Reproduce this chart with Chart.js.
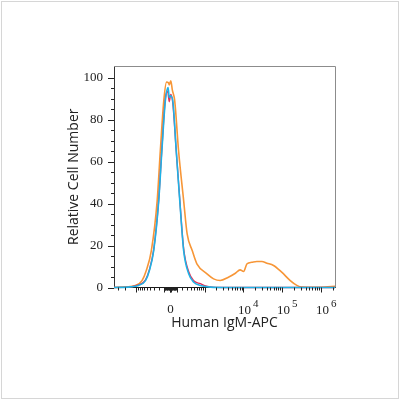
<!DOCTYPE html>
<html>
<head>
<meta charset="utf-8">
<script src="https://cdn.jsdelivr.net/npm/chart.js@4/dist/chart.umd.min.js"></script>
<style>
  body { margin: 0; background: #fff; }
  canvas { display: block; }
</style>
</head>
<body>
<canvas id="histChart" width="400" height="400"></canvas>
<script>
// x values are in display units of the biexponential axis (0 = zero, ~1 unit per decade)
const orangeX = [-1.45, -1.15, -0.90, -0.73, -0.62, -0.49, -0.34, -0.26, -0.17, -0.10, -0.05, -0.03, 0.01, 0.05, 0.11, 0.21, 0.34, 0.43, 0.56, 0.68, 0.94, 1.11, 1.28, 1.49, 1.67, 1.79, 1.88, 1.97, 2.09, 2.22, 2.35, 2.48, 2.65, 2.86, 3.08, 3.25, 3.38, 3.72, 3.97, 4.23];
const orangeY = [0, 0.3, 1.0, 3.3, 8.1, 17.6, 41.4, 65, 89, 97.8, 97.5, 96.5, 98.5, 94, 89, 65, 41.4, 25.5, 17.6, 11.3, 6.5, 4.1, 3.3, 4.9, 6.8, 8.4, 7.6, 11.3, 12, 12.4, 12.4, 11.6, 10.5, 7.3, 3.3, 1.0, 0.2, 0.1, 0.2, 0.6];

const blueX = [-1.45, -1.03, -0.82, -0.64, -0.54, -0.43, -0.30, -0.22, -0.13, -0.06, -0.03, 0, 0.06, 0.15, 0.24, 0.34, 0.47, 0.60, 0.77, 1.03, 1.5, 4.23];
const blueY = [0, 0.3, 1.0, 3.3, 8.1, 17.6, 41.4, 65, 89, 95.2, 90.5, 91.3, 89, 65, 41.4, 17.6, 6.5, 2.5, 1.0, 0.2, 0, 0];

const redX = [-1.45, -1.03, -0.82, -0.64, -0.54, -0.43, -0.30, -0.22, -0.13, -0.07, -0.03, 0.01, 0.06, 0.15, 0.24, 0.34, 0.47, 0.60, 0.77, 0.90, 1.08, 1.5, 4.23];
const redY = [0, 0.3, 1.2, 3.6, 8.5, 18, 42, 66, 90, 93.5, 88.5, 92, 88, 65, 42, 18.5, 7.5, 3.2, 1.8, 0.8, 0.2, 0, 0];

// axis ticks (fluorescence values) and their labels ("base^exponent")
const xLabelValues = [0, 1e4, 1e5, 1e6];
const xLabelTexts = ['0', '10^4', '10^5', '10^6'];
const yLabelValues = [0, 20, 40, 60, 80, 100];

// biexponential-like display transform
function toDisplay(v) {
    return Math.asinh(v / 268) / Math.LN10;
}

const xMin = -1.45;
const xMax = 4.23;

// build all x ticks: 0, +-k*10^n
const xTicks = [];
xTicks.push({ value: 0, long: true, name: '0' });
for (let n = 1; n <= 6; n++) {
    for (let k = 1; k <= 9; k++) {
        [1, -1].forEach(function (sign) {
            const v = sign * k * Math.pow(10, n);
            const d = toDisplay(v);
            if (d < xMin || d > xMax) return;
            const idx = xLabelValues.indexOf(v);
            xTicks.push({ value: d, long: k === 1, name: idx >= 0 ? xLabelTexts[idx] : '' });
        });
    }
}
xTicks.sort(function (a, b) { return a.value - b.value; });

const yTicks = [];
for (let v = 0; v <= 100; v += 5) {
    yTicks.push({ value: v, long: yLabelValues.indexOf(v) >= 0 });
}

function toPoints(xs, ys) {
    return xs.map(function (x, i) { return { x: x, y: ys[i] }; });
}

// tick marks, x labels with exponents, and frame
const frameTicks = {
    id: 'frameTicks',
    afterDraw(chart) {
        const ctx = chart.ctx;
        const area = chart.chartArea;
        const xs = chart.scales.x;
        const ys = chart.scales.y;
        ctx.save();
        ctx.lineWidth = 1;
        ctx.strokeStyle = '#222';
        ctx.fillStyle = '#222';
        xs.ticks.forEach(function (t) {
            const px = Math.round(xs.getPixelForValue(t.value)) + 0.5;
            ctx.beginPath();
            ctx.moveTo(px, area.bottom);
            ctx.lineTo(px, area.bottom + (t.long ? 5 : 3));
            ctx.stroke();
            if (!t.name) return;
            const parts = t.name.split('^');
            const base = area.bottom + 26;
            ctx.font = '13px "Liberation Serif"';
            ctx.textBaseline = 'alphabetic';
            if (parts.length === 1) {
                ctx.textAlign = 'center';
                ctx.fillText(parts[0], px, base - 1);
            } else {
                const w = ctx.measureText(parts[0]).width;
                ctx.textAlign = 'left';
                ctx.fillText(parts[0], px - w / 2 + 1, base);
                ctx.font = '11px "Liberation Serif"';
                ctx.fillText(parts[1], px + w / 2 + 3, base - 7);
            }
        });
        ys.ticks.forEach(function (t) {
            const py = Math.round(ys.getPixelForValue(t.value)) + 0.5;
            ctx.beginPath();
            ctx.moveTo(area.left, py);
            ctx.lineTo(area.left - (t.long ? 6 : 3), py);
            ctx.stroke();
        });
        // top and right of the plot box
        ctx.strokeStyle = '#8c8c8c';
        ctx.beginPath();
        ctx.moveTo(area.left, area.top + 0.5);
        ctx.lineTo(area.right + 0.5, area.top + 0.5);
        ctx.lineTo(area.right + 0.5, area.bottom);
        ctx.stroke();
        // outer light frame
        ctx.strokeStyle = '#d6d6d6';
        ctx.strokeRect(1.5, 1.5, chart.width - 3, chart.height - 3);
        ctx.restore();
    }
};

const tickFont = { family: 'Liberation Serif', size: 13 };
const titleFont = { family: 'Open Sans', size: 14 };

const config = {
    type: 'line',
    data: {
        datasets: [
            {
                label: 'Blue',
                data: toPoints(blueX, blueY),
                borderColor: 'rgb(30,178,230)',
                borderWidth: 1.6
            },
            {
                label: 'Red',
                data: toPoints(redX, redY),
                borderColor: 'rgb(228,50,90)',
                borderWidth: 1.4
            },
            {
                label: 'Orange',
                data: toPoints(orangeX, orangeY),
                borderColor: 'rgb(247,150,55)',
                borderWidth: 1.6
            }
        ]
    },
    options: {
        responsive: false,
        animation: false,
        layout: { padding: { top: 66, right: 65, bottom: 0, left: 0 } },
        elements: {
            point: { radius: 0 },
            line: { cubicInterpolationMode: 'monotone', fill: false }
        },
        datasets: { line: { clip: 4 } },
        plugins: {
            legend: { display: false },
            tooltip: { enabled: false }
        },
        scales: {
            x: {
                type: 'linear',
                min: xMin,
                max: xMax,
                afterBuildTicks: function (s) { s.ticks = xTicks.map(function (t) { return Object.assign({}, t); }); },
                afterFit: function (s) { s.height = 112.5; },
                grid: { display: false, drawTicks: false },
                border: { display: true, color: '#1a1a1a', width: 1 },
                ticks: {
                    autoSkip: false,
                    maxRotation: 0,
                    padding: 14,
                    font: tickFont,
                    // labels are drawn by the frameTicks plugin (exponents)
                    callback: function () { return ''; }
                },
                title: {
                    display: true,
                    text: 'Human IgM-APC',
                    color: '#222',
                    font: titleFont,
                    padding: { top: 0, bottom: 68.5 }
                }
            },
            y: {
                min: 0,
                max: 105.5,
                afterBuildTicks: function (s) { s.ticks = yTicks.map(function (t) { return Object.assign({}, t); }); },
                afterFit: function (s) { s.width = 114; },
                grid: { display: false, drawTicks: false },
                border: { display: true, color: '#333', width: 1 },
                ticks: {
                    autoSkip: false,
                    padding: 11,
                    color: '#222',
                    font: tickFont,
                    callback: function (value) { return yLabelValues.indexOf(value) >= 0 ? String(value) : ''; }
                },
                title: {
                    display: true,
                    text: 'Relative Cell Number',
                    color: '#222',
                    font: titleFont,
                    padding: { top: 65.5, bottom: 0 }
                }
            }
        }
    },
    plugins: [frameTicks]
};

const myChart = new Chart(document.getElementById('histChart'), config);
</script>
</body>
</html>
